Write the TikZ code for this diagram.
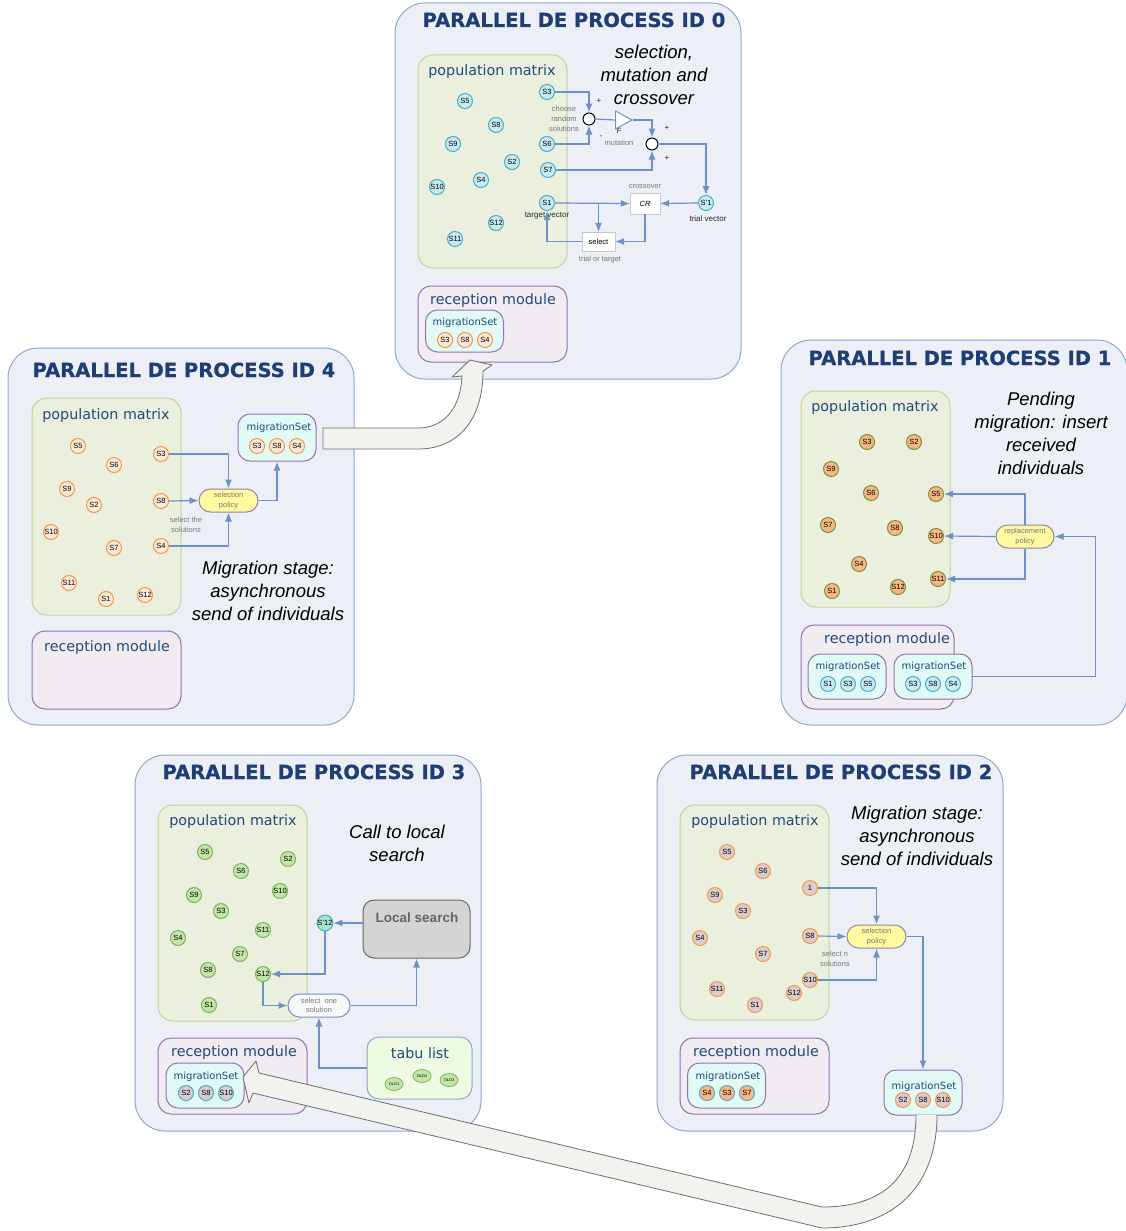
\documentclass[tikz,border=0pt]{standalone}
\usepackage{fontspec}
\setmainfont{Liberation Sans}
\newfontfamily\verdanalike{DejaVu Sans}
\newfontfamily\headingfont{DejaVu Sans}[BoldFeatures={FakeBold=0.7}]
\usepackage{tikz}
\usetikzlibrary{arrows.meta, positioning, shapes.geometric}
\definecolor{ProcFill}{RGB}{236,239,246}
\definecolor{ProcEdge}{RGB}{141,168,208}
\definecolor{TitleBlue}{RGB}{31,62,118}
\definecolor{LabelBlue}{RGB}{31,73,125}
\definecolor{PopFill}{RGB}{235,240,222}
\definecolor{PopEdge}{RGB}{192,212,152}
\definecolor{RecFill}{RGB}{240,236,242}
\definecolor{RecEdge}{RGB}{145,115,180}
\definecolor{SetFill}{RGB}{225,250,245}
\definecolor{SignalBlue}{RGB}{110,146,200}
\definecolor{NoteGray}{RGB}{120,120,120}
\definecolor{PolicyFill}{RGB}{255,249,160}
\definecolor{PolicyEdge}{RGB}{150,130,170}
\definecolor{CyanFill}{RGB}{200,234,242}
\definecolor{TealEdge}{RGB}{75,172,198}
\definecolor{PeachFill}{RGB}{253,233,217}
\definecolor{OrangeEdge}{RGB}{247,150,70}
\definecolor{AmberFill}{RGB}{250,182,130}
\definecolor{OliveEdge}{RGB}{119,147,60}
\definecolor{GreenFill}{RGB}{196,230,168}
\definecolor{GreenEdge}{RGB}{122,180,90}
\definecolor{MauveFill}{RGB}{218,205,210}
\definecolor{MintFill}{RGB}{168,230,205}
\definecolor{SearchFill}{RGB}{212,212,212}
\definecolor{SearchEdge}{RGB}{105,105,105}
\definecolor{TabuFill}{RGB}{238,250,226}
\definecolor{OpEdge}{RGB}{200,200,200}
\definecolor{BigArrowFill}{RGB}{242,242,238}
\definecolor{BigArrowEdge}{RGB}{110,110,110}
\tikzset{%
  process/.style={%
    rectangle,
    draw=ProcEdge,
    fill=ProcFill,
    line width=1pt,
    rounded corners=30pt,
    minimum width=346pt%
  },
  heading/.style={%
    anchor=base,
    text=TitleBlue,
    font={\headingfont\bfseries\fontsize{19.5}{22}\selectfont}%
  },
  popbox/.style={%
    rectangle,
    draw=PopEdge,
    fill=PopFill,
    line width=1pt,
    rounded corners=15pt,
    minimum width=149pt%
  },
  recbox/.style={%
    rectangle,
    draw=RecEdge,
    fill=RecFill,
    line width=1pt,
    rounded corners=13pt,
    minimum width=149pt,
    minimum height=76pt%
  },
  setbox/.style={%
    rectangle,
    draw=RecEdge,
    fill=SetFill,
    line width=1pt,
    rounded corners=12pt,
    minimum width=78pt,
    minimum height=45pt%
  },
  boxlabel/.style={%
    anchor=base,
    text=LabelBlue,
    font={\verdanalike\fontsize{14.3}{16}\selectfont}%
  },
  setlabel/.style={%
    anchor=base,
    text=LabelBlue,
    font={\verdanalike\fontsize{10}{12}\selectfont}%
  },
  remark/.style={%
    align=center,
    font={\itshape\fontsize{18.5}{23}\selectfont}%
  },
  annotate/.style={%
    align=center,
    text=NoteGray,
    inner sep=0pt,
    font={\fontsize{7.5}{9.7}\selectfont}%
  },
  tag/.style={%
    align=center,
    inner sep=0pt,
    text=black!85,
    font={\fontsize{8}{9}\selectfont}%
  },
  sol/.style={%
    circle,
    minimum size=15pt,
    inner sep=0pt,
    line width=1pt,
    font={\fontsize{7.5}{8}\selectfont}%
  },
  solcyan/.style={sol, fill=CyanFill, draw=TealEdge},
  solpeach/.style={sol, fill=PeachFill, draw=OrangeEdge},
  solamber/.style={sol, fill=AmberFill, draw=OliveEdge},
  solsunset/.style={sol, fill=AmberFill, draw=TealEdge},
  solgreen/.style={sol, fill=GreenFill, draw=GreenEdge},
  solmauve/.style={sol, fill=MauveFill, draw=OrangeEdge},
  solmix/.style={sol, fill=MauveFill, draw=TealEdge},
  solmint/.style={sol, fill=MintFill, draw=TealEdge},
  policy/.style={%
    rectangle,
    rounded corners=11.5pt,
    minimum width=59pt,
    minimum height=23pt,
    inner sep=0pt,
    fill=PolicyFill,
    draw=PolicyEdge,
    line width=1pt,
    align=center,
    text=NoteGray,
    font={\fontsize{7.5}{9.5}\selectfont}%
  },
  summer/.style={%
    circle,
    minimum size=12pt,
    inner sep=0pt,
    draw=black,
    fill=white,
    line width=1pt%
  },
  opbox/.style={%
    rectangle,
    fill=white,
    draw=OpEdge,
    inner sep=0pt,
    font={\fontsize{7.5}{9}\selectfont}%
  },
  oldsol/.style={%
    ellipse,
    minimum width=18pt,
    minimum height=13pt,
    inner sep=0pt,
    fill=GreenFill,
    draw=GreenEdge,
    line width=0.8pt,
    font={\fontsize{4}{5}\selectfont}%
  },
  signal/.style={%
    color=SignalBlue,
    line width=1.2pt%
  },
  arrow/.style={-{Latex[length=9pt, width=7pt]}},
  bigarrow/.style={%
    draw=BigArrowEdge,
    fill=BigArrowFill,
    line width=0.8pt,
    line join=round%
  }
}

\begin{document}
\begin{tikzpicture}[x=1pt, y=-1pt]
  \useasboundingbox (0,0) rectangle (1126,1231);

  % process 0
  \node [process, minimum height=376pt] (Proc0) at (568,191) {};
  \node [heading] (Proc0Title) at (574,27) {PARALLEL DE PROCESS ID 0};
  \node [popbox, minimum height=213pt] (Pop0) at (492.5,161.5) {};
  \node [boxlabel] (Pop0Label) at (492,75) {population matrix};
  \node [remark] (Proc0Remark) at (654,75) {selection,\\mutation and\\crossover};
  \node [solcyan] (P0S5) at (465,101) {S5};
  \node [solcyan] (P0S8) at (496,125) {S8};
  \node [solcyan] (P0S9) at (453,144) {S9};
  \node [solcyan] (P0S2) at (512,162) {S2};
  \node [solcyan] (P0S4) at (481,180) {S4};
  \node [solcyan] (P0S10) at (437,187) {S10};
  \node [solcyan] (P0S12) at (496,223) {S12};
  \node [solcyan] (P0S11) at (455,239) {S11};
  \node [solcyan] (P0S3) at (547,92) {S3};
  \node [solcyan] (P0S6) at (547,144) {S6};
  \node [solcyan] (P0S7) at (548,170) {S7};
  \node [solcyan] (P0S1) at (547,203) {S1};
  \node [summer] (P0SumA) at (589,119) {};
  \node [summer] (P0SumB) at (652,144) {};
  \node [isosceles triangle, isosceles triangle stretches, minimum width=18pt,
    minimum height=16pt, inner sep=0pt, draw=SignalBlue, fill=white, line width=1pt]
    (P0Gain) at (621,120) {};
  \node [annotate] (P0Choose) at (564,119) {choose\\random\\solutions};
  \node [tag, font={\itshape\fontsize{7.5}{9}\selectfont}] (P0F) at (619,131) {F};
  \node [annotate] (P0Mutation) at (619,143) {mutation};
  \node [tag] (P0PlusA) at (599,101) {+};
  \node [tag] (P0Minus) at (601,137) {-};
  \node [tag] (P0PlusB) at (667,128) {+};
  \node [tag] (P0PlusC) at (667,158) {+};
  \node [solcyan] (P0Trial) at (706,203) {S'1};
  \node [tag] (P0TrialLabel) at (708,219) {trial vector};
  \node [tag] (P0TargetLabel) at (547,216) {target vector};
  \node [opbox, minimum width=30pt, minimum height=21pt, font={\itshape\fontsize{7.5}{9}\selectfont}]
    (P0Cross) at (645,203.5) {CR};
  \node [annotate] (P0CrossLabel) at (645,187) {crossover};
  \node [opbox, minimum width=33pt, minimum height=19pt] (P0Select) at (598.5,241.5) {select};
  \node [annotate] (P0SelectLabel) at (600,260) {trial or target};
  \node [recbox] (Rec0) at (492.5,324) {};
  \node [boxlabel] (Rec0Label) at (493,304) {reception module};
  \node [setbox, minimum height=42pt] (P0Set) at (464.5,331) {};
  \node [setlabel] (P0SetLabel) at (465,325) {migrationSet};
  \node [solpeach] (P0M3) at (445,340) {S3};
  \node [solpeach] (P0M8) at (465,340) {S8};
  \node [solpeach] (P0M4) at (485,340) {S4};

  \draw [arrow, signal] (P0S3.east) -| (P0SumA.north);
  \draw [arrow, signal] (P0S6.east) -| (P0SumA.south);
  \draw [signal] (P0SumA.east) -- (P0Gain.west);
  \draw [arrow, signal] (P0Gain.east) -| (P0SumB.north);
  \draw [arrow, signal] (P0S7.east) -| (P0SumB.south);
  \draw [arrow, signal] (P0SumB.east) -| (P0Trial.north);
  \draw [arrow, signal] (P0Trial.west) -- (P0Cross.east);
  \draw [arrow, signal] (P0S1.east) -- (P0Cross.west);
  \draw [arrow, signal] (P0Select.north |- P0S1.east) -- (P0Select.north);
  \draw [arrow, signal] (P0Cross.south) |- (P0Select.east);
  \draw [arrow, signal] (P0Select.west) -| (P0S1.south);

  % process 4
  \node [process, minimum height=377pt] (Proc4) at (181,536.5) {};
  \node [heading] (Proc4Title) at (184,377) {PARALLEL DE PROCESS ID 4};
  \node [popbox, minimum height=217pt] (Pop4) at (106.5,506.5) {};
  \node [boxlabel] (Pop4Label) at (106,419) {population matrix};
  \node [remark] (Proc4Remark) at (268,591) {Migration stage:\\asynchronous\\send of individuals};
  \node [solpeach] (P4S5) at (78,446) {S5};
  \node [solpeach] (P4S6) at (114,465) {S6};
  \node [solpeach] (P4S9) at (67,489) {S9};
  \node [solpeach] (P4S2) at (94,505) {S2};
  \node [solpeach] (P4S10) at (51,532) {S10};
  \node [solpeach] (P4S7) at (114,548) {S7};
  \node [solpeach] (P4S11) at (69,583) {S11};
  \node [solpeach] (P4S1) at (106,599) {S1};
  \node [solpeach] (P4S12) at (145,595) {S12};
  \node [solpeach] (P4S3) at (161,454) {S3};
  \node [solpeach] (P4S8) at (161,501) {S8};
  \node [solpeach] (P4S4) at (161,546) {S4};
  \node [policy] (P4Policy) at (228.5,500.5) {selection\\policy};
  \node [annotate] (P4Note) at (186,525) {select the\\solutions};
  \node [setbox, minimum height=47pt] (P4Set) at (277,437.5) {};
  \node [setlabel] (P4SetLabel) at (279,430) {migrationSet};
  \node [solpeach] (P4M3) at (257,446) {S3};
  \node [solpeach] (P4M8) at (277,446) {S8};
  \node [solpeach] (P4M4) at (297,446) {S4};
  \node [recbox, minimum height=78pt] (Rec4) at (106.5,670) {};
  \node [boxlabel] (Rec4Label) at (107,651) {reception module};

  \draw [arrow, signal] (P4S3.east) -| (P4Policy.north);
  \draw [arrow, signal] (P4S8.east) -- (P4Policy.west);
  \draw [arrow, signal] (P4S4.east) -| (P4Policy.south);
  \draw [arrow, signal] (P4Policy.east) -| (P4Set.south);

  % process 1
  \node [process, minimum height=385pt] (Proc1) at (954,532.5) {};
  \node [heading] (Proc1Title) at (960,365) {PARALLEL DE PROCESS ID 1};
  \node [popbox, minimum height=216pt] (Pop1) at (875.5,499) {};
  \node [boxlabel] (Pop1Label) at (875,411) {population matrix};
  \node [remark] (Proc1Remark) at (1041,433) {Pending\\migration: insert\\received\\individuals};
  \node [solamber] (P1S3) at (867,442) {S3};
  \node [solamber] (P1S2) at (914,442) {S2};
  \node [solamber] (P1S9) at (831,469) {S9};
  \node [solamber] (P1S6) at (871,493) {S6};
  \node [solamber] (P1S5) at (936,494) {S5};
  \node [solamber] (P1S7) at (828,525) {S7};
  \node [solamber] (P1S8) at (895,528) {S8};
  \node [solamber] (P1S10) at (936,536) {S10};
  \node [solamber] (P1S4) at (859,564) {S4};
  \node [solamber] (P1S12) at (898,587) {S12};
  \node [solamber] (P1S11) at (938,579) {S11};
  \node [solamber] (P1S1) at (832,591) {S1};
  \node [policy, minimum width=58pt] (P1Policy) at (1025,536.5) {replacement\\policy};
  \node [recbox, minimum width=153pt, minimum height=84pt] (Rec1) at (877.5,667) {};
  \node [boxlabel] (Rec1Label) at (887,643) {reception module};
  \node [setbox] (P1SetA) at (847,676.5) {};
  \node [setlabel] (P1SetALabel) at (848,669) {migrationSet};
  \node [solcyan] (P1A1) at (828,684) {S1};
  \node [solcyan] (P1A3) at (848,684) {S3};
  \node [solcyan] (P1A5) at (868,684) {S5};
  \node [setbox] (P1SetB) at (933,676.5) {};
  \node [setlabel] (P1SetBLabel) at (934,669) {migrationSet};
  \node [solcyan] (P1B3) at (913,684) {S3};
  \node [solcyan] (P1B8) at (933,684) {S8};
  \node [solcyan] (P1B4) at (953,684) {S4};

  \draw [arrow, signal] (P1Policy.north) |- (P1S5.east);
  \draw [arrow, signal] (P1Policy.west) -- (P1S10.east);
  \draw [arrow, signal] (P1Policy.south) |- (P1S11.east);
  \draw [arrow, signal] (P1SetB.east) -- +(123,0) |- (P1Policy.east);

  % process 3
  \node [process, minimum height=376pt] (Proc3) at (308,943) {};
  \node [heading] (Proc3Title) at (314,779) {PARALLEL DE PROCESS ID 3};
  \node [popbox, minimum height=216pt] (Pop3) at (232.5,913) {};
  \node [boxlabel] (Pop3Label) at (233,825) {population matrix};
  \node [remark] (Proc3Remark) at (397,843) {Call to local\\search};
  \node [solgreen] (P3S5) at (205,852) {S5};
  \node [solgreen] (P3S6) at (241,871) {S6};
  \node [solgreen] (P3S2) at (288,859) {S2};
  \node [solgreen] (P3S9) at (194,895) {S9};
  \node [solgreen] (P3S10) at (280,891) {S10};
  \node [solgreen] (P3S3) at (221,911) {S3};
  \node [solgreen] (P3S11) at (263,930) {S11};
  \node [solgreen] (P3S4) at (178,938) {S4};
  \node [solgreen] (P3S7) at (240,954) {S7};
  \node [solgreen] (P3S8) at (208,970) {S8};
  \node [solgreen] (P3S12) at (263,974) {S12};
  \node [solgreen] (P3S1) at (209,1005) {S1};
  \node [solmint] (P3New) at (325,923) {S'12};
  \node [rectangle, rounded corners=11pt, minimum width=107pt, minimum height=58pt,
    fill=SearchFill, draw=SearchEdge, line width=1pt] (P3Search) at (416.5,929) {};
  \node [text=black!60, font={\bfseries\fontsize{13.5}{15}\selectfont}] (P3SearchLabel)
    at (417,918) {Local search};
  \node [rectangle, rounded corners=11.5pt, minimum width=62pt, minimum height=23pt,
    inner sep=0pt, fill=ProcFill!40, draw=SignalBlue, line width=1pt, align=center,
    text=NoteGray, font={\fontsize{7.5}{9.5}\selectfont}] (P3Pick) at (319,1005.5)
    {select~~one\\solution};
  \node [rectangle, rounded corners=12pt, minimum width=105pt, minimum height=62pt,
    fill=TabuFill, draw=ProcEdge, line width=1pt] (P3Tabu) at (419.5,1068) {};
  \node [boxlabel] (P3TabuLabel) at (420,1058) {tabu list};
  \node [oldsol] (P3Old1) at (394,1084) {OLD1};
  \node [oldsol] (P3Old2) at (422,1076) {OLD2};
  \node [oldsol] (P3Old3) at (449,1080) {OLD3};
  \node [recbox] (Rec3) at (232.5,1076) {};
  \node [boxlabel] (Rec3Label) at (234,1056) {reception module};
  \node [setbox] (P3Set) at (205,1085.5) {};
  \node [setlabel] (P3SetLabel) at (206,1079) {migrationSet};
  \node [solmix] (P3M2) at (186,1093) {S2};
  \node [solmix] (P3M8) at (206,1093) {S8};
  \node [solmix] (P3M10) at (226,1093) {S10};

  \draw [arrow, signal] (P3Search.west |- P3New.east) -- (P3New.east);
  \draw [arrow, signal] (P3New.south) |- (P3S12.east);
  \draw [arrow, signal] (P3S12.south) |- (P3Pick.west);
  \draw [arrow, signal] (P3Pick.east) -| (P3Search.south);
  \draw [arrow, signal] (P3Tabu.west) -| (P3Pick.south);

  % process 2
  \node [process, minimum height=376pt] (Proc2) at (830,943) {};
  \node [heading] (Proc2Title) at (841,779) {PARALLEL DE PROCESS ID 2};
  \node [popbox, minimum height=215pt] (Pop2) at (754.5,912.5) {};
  \node [boxlabel] (Pop2Label) at (755,825) {population matrix};
  \node [remark] (Proc2Remark) at (917,836) {Migration stage:\\asynchronous\\send of individuals};
  \node [solmauve] (P2S5) at (727,852) {S5};
  \node [solmauve] (P2S6) at (763,871) {S6};
  \node [solmauve] (P2S9) at (715,895) {S9};
  \node [solmauve] (P2S3) at (743,911) {S3};
  \node [solmauve] (P2S4) at (700,938) {S4};
  \node [solmauve] (P2S7) at (763,954) {S7};
  \node [solmauve] (P2S11) at (717,989) {S11};
  \node [solmauve] (P2S1) at (755,1005) {S1};
  \node [solmauve] (P2S12) at (794,993) {S12};
  \node [solmauve] (P2SOne) at (810,888) {1};
  \node [solmauve] (P2S8) at (810,936) {S8};
  \node [solmauve] (P2S10) at (810,980) {S10};
  \node [policy] (P2Policy) at (876.5,936.5) {selection\\policy};
  \node [annotate] (P2Note) at (835,959) {select n\\solutions};
  \node [recbox] (Rec2) at (754.5,1076) {};
  \node [boxlabel] (Rec2Label) at (756,1056) {reception module};
  \node [setbox] (P2Set) at (726.5,1085.5) {};
  \node [setlabel] (P2SetLabel) at (728,1079) {migrationSet};
  \node [solsunset] (P2M4) at (707,1093) {S4};
  \node [solsunset] (P2M3) at (727,1093) {S3};
  \node [solsunset] (P2M7) at (747,1093) {S7};
  \node [setbox] (P2Out) at (923,1092.5) {};
  \node [setlabel] (P2OutLabel) at (924,1089) {migrationSet};
  \node [solmauve] (P2O2) at (903,1100) {S2};
  \node [solmauve] (P2O8) at (923,1100) {S8};
  \node [solmauve] (P2O10) at (943,1100) {S10};

  \draw [arrow, signal] (P2SOne.east) -| (P2Policy.north);
  \draw [arrow, signal] (P2S8.east) -- (P2Policy.west);
  \draw [arrow, signal] (P2S10.east) -| (P2Policy.south);
  \draw [arrow, signal] (P2Policy.east) -| (P2Out.north);

  % migration arrows
  \draw [bigarrow]
    (323,428) -- (418,428)
    .. controls (446,428) and (461,405) .. (462,376)
    -- (452,377) -- (470,360) -- (492,365) -- (483,371)
    .. controls (483,420) and (458,449) .. (418,449)
    -- (323,449) -- cycle;
  \fill [BigArrowFill]
    (916,1115) .. controls (916,1180) and (880,1207) .. (822,1207)
    -- (259,1073) -- (256,1061) -- (243,1077) -- (249,1103) -- (253,1093)
    -- (822,1228) .. controls (895,1228) and (937,1185) .. (937,1115) -- cycle;
  \draw [BigArrowEdge, line width=0.8pt, line join=round]
    (916,1115) .. controls (916,1180) and (880,1207) .. (822,1207)
    -- (259,1073) -- (256,1061) -- (243,1077) -- (249,1103) -- (253,1093)
    -- (822,1228) .. controls (895,1228) and (937,1185) .. (937,1115);
\end{tikzpicture}
\end{document}
